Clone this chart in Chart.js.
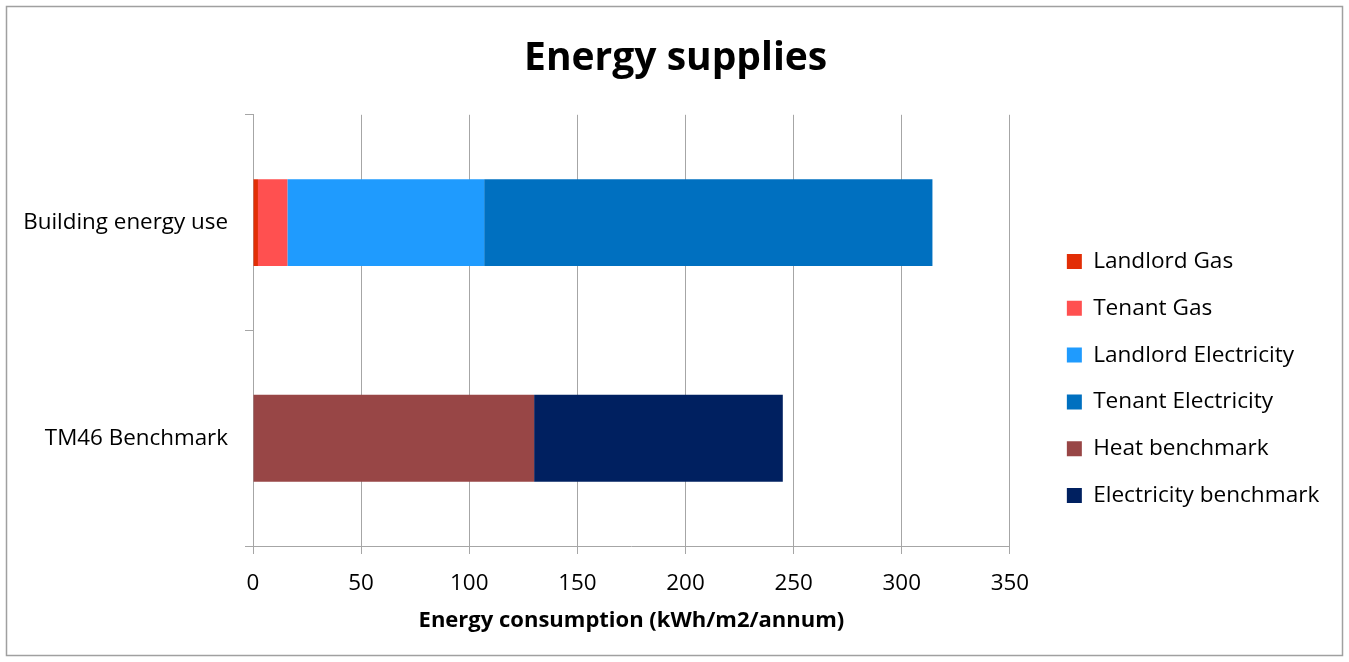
<!DOCTYPE html>
<html>
<head>
<meta charset="utf-8">
<script src="https://cdn.jsdelivr.net/npm/chart.js@4.4.1/dist/chart.umd.min.js"></script>
<style>
  html, body { margin: 0; padding: 0; background: #ffffff; }
  #wrap { width: 1349px; height: 662px; position: relative; }
</style>
</head>
<body>
<div id="wrap"><canvas id="chart" width="1349" height="662"></canvas></div>
<script>
// Categories (rows of the horizontal bar chart)
const categories = ['Building energy use', 'TM46 Benchmark'];

// Series values in kWh/m2/annum, one entry per category
const landlordGas          = [2.3, null];
const tenantGas            = [13.6, null];
const landlordElectricity  = [91.0, null];
const tenantElectricity    = [207.3, null];
const heatBenchmark        = [null, 130];
const electricityBenchmark = [null, 115];

const seriesNames  = ['Landlord Gas', 'Tenant Gas', 'Landlord Electricity', 'Tenant Electricity', 'Heat benchmark', 'Electricity benchmark'];
const seriesColors = ['#E22E06', '#FF5050', '#1F9BFE', '#0070C0', '#984646', '#002060'];
const seriesData   = [landlordGas, tenantGas, landlordElectricity, tenantElectricity, heatBenchmark, electricityBenchmark];

// x-axis tick values
const xTicks = [0, 50, 100, 150, 200, 250, 300, 350];

const FONT = '"Open Sans", Lato, sans-serif';
const GRID = '#a6a6a6';
const PAD_LEFT = 22;
const PAD_RIGHT = 19.7;

// Grey frame around the whole chart
const framePlugin = {
  id: 'frame',
  beforeDraw(chart) {
    const ctx = chart.ctx;
    ctx.save();
    ctx.fillStyle = '#ffffff';
    ctx.fillRect(0, 0, chart.width, chart.height);
    ctx.strokeStyle = '#a0a0a0';
    ctx.lineWidth = 1.5;
    ctx.strokeRect(6.5, 6.5, chart.width - 13, chart.height - 13);
    ctx.restore();
  }
};

function draw() {
  new Chart(document.getElementById('chart'), {
    type: 'bar',
    data: {
      labels: categories,
      datasets: seriesNames.map((name, i) => ({
        label: name,
        data: seriesData[i],
        backgroundColor: seriesColors[i],
        borderWidth: 0,
        categoryPercentage: 1,
        barPercentage: 0.403
      }))
    },
    options: {
      indexAxis: 'y',
      responsive: false,
      animation: false,
      layout: { padding: { left: PAD_LEFT, right: PAD_RIGHT, top: 0, bottom: 22 } },
      plugins: {
        tooltip: { enabled: false },
        title: {
          display: true,
          text: 'Energy supplies',
          color: '#000000',
          font: { family: FONT, size: 39, weight: 'bold', lineHeight: 1.2 },
          padding: { top: 35, bottom: 33 }
        },
        legend: {
          position: 'right',
          align: 'center',
          maxWidth: 1000,
          // blank heading that pushes the entries down
          title: {
            display: true,
            text: '',
            font: { family: FONT, size: 10, lineHeight: 1.2 },
            padding: { top: 105, bottom: 0 }
          },
          labels: {
            color: '#000000',
            font: { family: FONT, size: 22.6 },
            boxWidth: 15,
            boxHeight: 15,
            padding: 24.2
          }
        }
      },
      scales: {
        x: {
          stacked: true,
          min: xTicks[0],
          max: xTicks[xTicks.length - 1],
          afterBuildTicks(scale) { scale.ticks = xTicks.map(v => ({ value: v })); },
          ticks: { color: '#000000', font: { family: FONT, size: 22.4 }, padding: 16 },
          grid: { color: GRID, lineWidth: 1, tickLength: 8, drawOnChartArea: true },
          border: { color: GRID, width: 1 },
          title: {
            display: true,
            text: 'Energy consumption (kWh/m2/annum)',
            color: '#000000',
            font: { family: FONT, size: 22, weight: 'bold', lineHeight: 1.2 },
            padding: { top: 4, bottom: 6 }
          },
          afterFit(scale) { scale.height = 94; }
        },
        y: {
          stacked: true,
          ticks: { color: '#000000', font: { family: FONT, size: 22.4 }, padding: 17 },
          grid: { color: GRID, offset: true, drawOnChartArea: false, tickLength: 8 },
          border: { color: GRID, width: 1 },
          afterFit(scale) { scale.width = 253 - PAD_LEFT; }
        },
        // empty spacer between the plot and the legend
        gap: {
          axis: 'y',
          position: 'right',
          display: true,
          ticks: { display: false },
          grid: { display: false },
          border: { display: false },
          afterFit(scale) { scale.width = 32.8; }
        }
      }
    },
    plugins: [framePlugin]
  });
}

if (document.fonts && document.fonts.load) {
  Promise.all([
    document.fonts.load('22px "Open Sans"'),
    document.fonts.load('bold 39px "Open Sans"')
  ]).then(draw, draw);
} else {
  draw();
}
</script>
</body>
</html>
